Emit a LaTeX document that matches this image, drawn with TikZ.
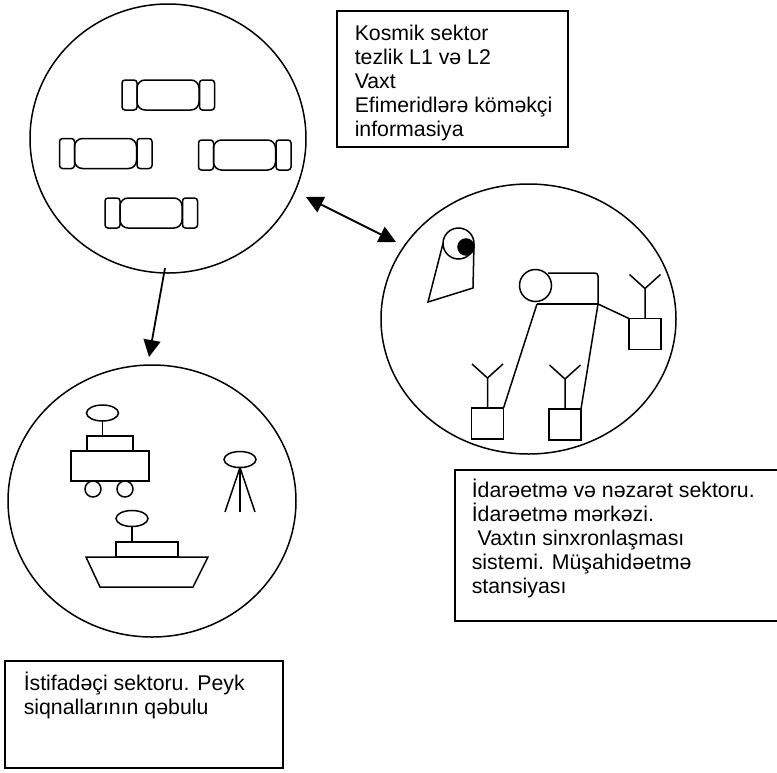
\documentclass[tikz,border=0pt]{standalone}
\usepackage{fontspec}
\setmainfont{Liberation Sans}
\usetikzlibrary{shapes}
\usetikzlibrary{arrows.meta}
\tikzset{ sector/.style = {ellipse, draw, inner sep=0pt, outer sep=0pt} }
\tikzset{ sector_box/.style = {rectangle, draw, inner sep=0pt, outer sep=0pt} }
\tikzset{ sector_text/.style = {anchor=north west, align=left, inner sep=0pt, font=\fontsize{21.3}{24}\selectfont} }
\tikzset{ sat_body/.style = {rectangle, draw, rounded corners=8pt, minimum width=62pt, minimum height=30pt, inner sep=0pt} }
\tikzset{ sat_panel/.style = {rectangle, draw, rounded corners=3pt, minimum width=15pt, minimum height=30pt, inner sep=0pt} }
\tikzset{ part/.style = {rectangle, draw, inner sep=0pt, outer sep=0pt} }
\tikzset{ station/.style = {part, minimum width=32pt, minimum height=31pt} }
\tikzset{ dish/.style = {ellipse, draw, minimum width=32pt, minimum height=16pt, inner sep=0pt, outer sep=0pt} }
\tikzset{ ring/.style = {circle, draw, inner sep=0pt, outer sep=0pt} }
\tikzset{ link/.style = {line width=1.8pt, >={Triangle[length=17pt,width=17pt]}} }

\begin{document}
\begin{tikzpicture}[x=1pt, y=-1pt, line width=1.5pt]
            \useasboundingbox (0,0) rectangle (777,772);
            \node [sector, minimum width=276pt, minimum height=269pt] (space) at (168, 138.5) {};
            \node [sector, minimum width=295pt, minimum height=270pt] (control) at (528.5, 319) {};
            \node [sector, minimum width=288pt, minimum height=272pt] (user) at (152, 501) {};

            \node [sector_box, minimum width=231pt, minimum height=136pt] (space_box) at (452.5, 79) {};
            \node [sector_box, minimum width=325pt, minimum height=151pt] (control_box) at (617.5, 545.5) {};
            \node [sector_box, minimum width=278pt, minimum height=107pt] (user_box) at (144, 714.5) {};
            \node [sector_text] (space_text) at (354, 24) {Kosmik sektor\\tezlik L1 və L2\\Vaxt\\Efimeridlərə köməkçi\\informasiya};
            \node [sector_text] (control_text) at (471, 478) {İdarəetmə və nəzarət sektoru.\\İdarəetmə mərkəzi.\\\ Vaxtın sinxronlaşması\\sistemi. Müşahidəetmə\\stansiyası};
            \node [sector_text] (user_text) at (23, 671) {İstifadəçi sektoru. Peyk\\siqnallarının qəbulu};

            \foreach \name/\cx/\cy in {sat_a/168/95, sat_b/105.5/153.5, sat_c/244.5/155, sat_d/151/213} {
                \node [sat_body] (\name) at (\cx, \cy) {};
                \node [sat_panel] (\name_l) at (\cx-38.5, \cy) {};
                \node [sat_panel] (\name_r) at (\cx+39, \cy) {};
            }

            \coordinate (down_start) at (165, 268);
            \coordinate (down_tip) at (149, 357);
            \coordinate (both_a) at (306, 197);
            \coordinate (both_b) at (396, 242);
            \draw[link, ->] (down_start) to (down_tip);
            \draw[link, <->] (both_a) to (both_b);

            \node [ring, minimum size=31pt] (tracker) at (458.5, 243.5) {};
            \node [ring, fill=black, minimum size=16pt] (tracker_dot) at (466, 247) {};
            \draw (tracker.west) -- (428, 302) -- (473, 288) -- (tracker.east);

            \node [ring, minimum size=32pt] (center) at (535.5, 285.5) {};
            \coordinate (center_top) at (548, 273);
            \coordinate (center_corner) at (598, 304);
            \coordinate (center_bottom) at (537, 304);
            \draw[rounded corners=3pt] (center_top) -| (center_corner);
            \draw (center_corner) -- (center_bottom);

            \node [station] (station_a) at (487.5, 423.5) {};
            \node [station] (station_b) at (565, 424.5) {};
            \node [station] (station_c) at (645, 334) {};
            \draw (center_bottom) -- (station_a.north east);
            \draw (center_corner) -- (station_b.north east);
            \draw (center_corner) -- (station_c.north west);
            \foreach \name in {station_a, station_b, station_c} {
                \draw (\name.north) -- ++(0, -30) coordinate (fork) -- ++(-15.5, -14);
                \draw (fork) -- ++(15.5, -14);
            }

            \node [dish] (car_dish) at (102.5, 413) {};
            \node [part, minimum width=46pt, minimum height=15pt] (car_cab) at (110, 443.5) {};
            \node [part, minimum width=78pt, minimum height=30pt] (car_body) at (110, 466) {};
            \node [ring, minimum size=16pt] (wheel_a) at (93, 489) {};
            \node [ring, minimum size=16pt] (wheel_b) at (125, 489) {};
            \draw (car_dish.south) -- (102.5, 436);

            \node [dish] (tripod_dish) at (240, 459.5) {};
            \foreach \foot in {225, 240, 255} {
                \draw (tripod_dish.south) -- (\foot, 512);
            }

            \node [dish] (ship_dish) at (132, 518.5) {};
            \node [part, minimum width=62pt, minimum height=15pt] (ship_cab) at (147, 549.5) {};
            \draw (ship_dish.south) -- (132, 542);
            \draw (86, 557) -- (208, 557) -- (193, 587) -- (100, 587) -- cycle;
        \end{tikzpicture}
\end{document}
